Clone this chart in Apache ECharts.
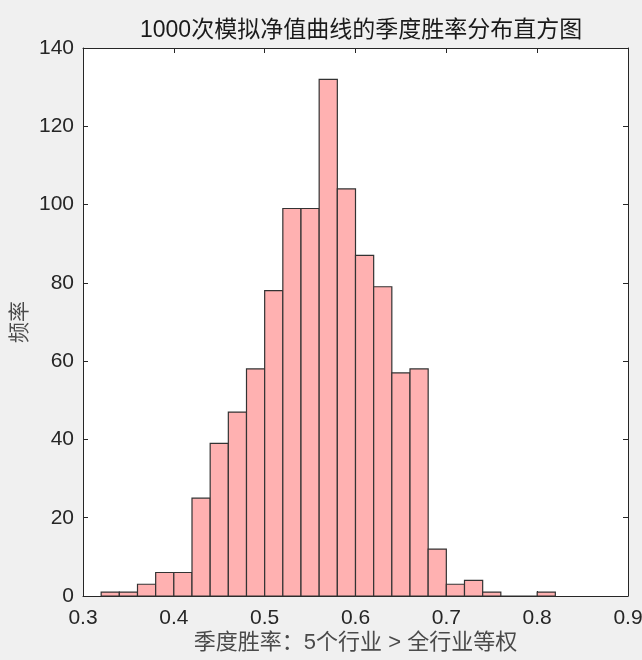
<!DOCTYPE html>
<html><head><meta charset="utf-8">
<script src="https://cdn.jsdelivr.net/npm/echarts@6/dist/echarts.min.js"></script>
<style>html,body{margin:0;padding:0;background:#f0f0f0;}#c{width:642px;height:660px;}</style>
</head><body><div id="c"></div>
<script>
const binStart = [0.32,0.34,0.36,0.38,0.40,0.42,0.44,0.46,0.48,0.50,0.52,0.54,0.56,0.58,0.60,0.62,0.64,0.66,0.68,0.70,0.72,0.74,0.76,0.78,0.80];
const binWidth = 0.02;
const counts = [1,1,3,6,6,25,39,47,58,78,99,99,132,104,87,79,57,58,12,3,4,1,0,0,1];
const xTicks = [0.3,0.4,0.5,0.6,0.7,0.8,0.9];
const yTicks = [0,20,40,60,80,100,120,140];
const titleText = '1000次模拟净值曲线的季度胜率分布直方图';
const xName = '季度胜率：5个行业 > 全行业等权';
const yName = '频率';

const data = binStart.map((s,i)=>[s, s+binWidth, counts[i]]);
const font = '"Liberation Sans","Noto Sans CJK SC",sans-serif';
const axisCol = '#262626';
const chart = echarts.init(document.getElementById('c'), null, {renderer:'canvas'});
const baseX = {type:'value', min:xTicks[0], max:xTicks[xTicks.length-1], interval:0.1, splitLine:{show:false},
  axisLine:{show:true, onZero:false, lineStyle:{color:axisCol,width:1}},
  axisTick:{show:true, inside:true, length:5, lineStyle:{color:axisCol}}};
const baseY = {type:'value', min:yTicks[0], max:yTicks[yTicks.length-1], interval:20, splitLine:{show:false},
  axisLine:{show:true, onZero:false, lineStyle:{color:axisCol,width:1}},
  axisTick:{show:true, inside:true, length:5, lineStyle:{color:axisCol}}};
chart.setOption({
  backgroundColor:'#f0f0f0',
  animation:false,
  title:{text:titleText, left:135, top:14, textStyle:{fontFamily:font, fontSize:23, fontWeight:'normal', color:'#1a1a1a'}},
  grid:{left:83, right:14, top:48, bottom:64, backgroundColor:'#ffffff', show:true, borderWidth:0,
    containLabel:false, outerBoundsMode:'none'},
  xAxis:[
    Object.assign({}, baseX, {position:'bottom', name:xName, nameLocation:'middle', nameGap:36, nameMoveOverlap:false,
      nameTextStyle:{fontFamily:font, fontSize:22, color:'#4a4a4a'},
      axisLabel:{fontFamily:font, fontSize:21, color:axisCol, margin:12, formatter:v=>String(+v.toFixed(1))}}),
    Object.assign({}, baseX, {position:'top', axisLabel:{show:false}})
  ],
  yAxis:[
    Object.assign({}, baseY, {position:'left', name:yName, nameLocation:'middle', nameGap:52, nameMoveOverlap:false,
      nameTextStyle:{fontFamily:font, fontSize:21, color:'#4a4a4a'},
      axisLabel:{fontFamily:font, fontSize:21, color:axisCol, margin:9}}),
    Object.assign({}, baseY, {position:'right', axisLabel:{show:false}})
  ],
  series:[{
    type:'custom',
    xAxisIndex:0, yAxisIndex:0,
    data:data,
    renderItem:function(params, api){
      const p0 = api.coord([api.value(0), api.value(2)]);
      const p1 = api.coord([api.value(1), 0]);
      return {type:'rect', shape:{x:p0[0], y:p0[1], width:p1[0]-p0[0], height:p1[1]-p0[1]},
        style:{fill:'#ffb1b1', stroke:'#333333', lineWidth:1.2}};
    },
    encode:{x:[0,1], y:2}
  }]
});
</script></body></html>
